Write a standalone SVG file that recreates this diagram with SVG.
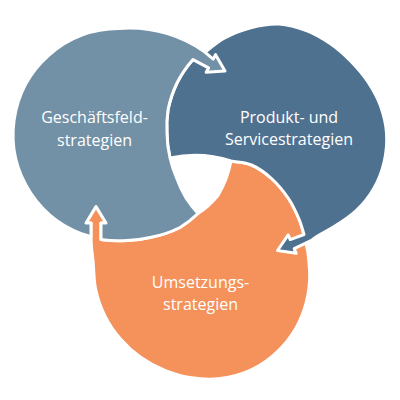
<svg xmlns="http://www.w3.org/2000/svg" width="400" height="400" viewBox="0 0 400 400">
<style>
.blob{stroke:#fff;stroke-width:3;stroke-linejoin:round}
.lbl{font-family:"Open Sans","Noto Sans","DejaVu Sans",sans-serif;font-size:16px;fill:#fff;text-anchor:middle}
</style>
<rect width="400" height="400" fill="#fff"/>
<g id="umsetzung">
<path class="blob" fill="#F5915A" d="M96,206.5 L106,223 L101,223 L101,239.5 A112,112 0 0 0 127,240.5 A112,112 0 0 0 150,237.5 A112,112 0 0 0 180,227.5 A112,112 0 0 0 198,213.5 A112,112 0 0 0 208.5,205.5 A112,112 0 0 0 218,195.5 A112,112 0 0 0 226,179 A112,112 0 0 0 231,161 C237.83,162.33 244.75,162.08 251.5,165 C258.25,167.92 265.33,172.92 271.5,178.5 C277.67,184.08 283.92,191.75 288.5,198.5 C293.08,205.25 296.42,213 299,219 C301.58,225 302.33,229.33 304,234.5 L307.85,252.16 C308.78,259.83 310.17,271.09 309.59,280.5 C309.01,289.91 307.33,299.6 304.37,308.62 C301.41,317.64 297.18,326.7 291.85,334.61 C286.53,342.52 279.77,349.98 272.42,356.1 C265.07,362.22 256.52,367.59 247.78,371.33 C239.04,375.07 229.32,377.46 219.96,378.54 C210.6,379.62 200.84,379.16 191.65,377.79 C182.47,376.42 173.36,373.75 164.85,370.33 C156.34,366.91 148.03,362.52 140.6,357.26 C133.17,352 126.21,345.66 120.26,338.75 C114.32,331.84 109.02,324 104.93,315.8 C100.84,307.6 97.69,298.6 95.72,289.56 C93.75,280.52 93.81,268.65 93.11,261.56 C92.41,254.47 91.85,251.43 91.5,247 C91.15,242.57 91.08,239 91,235 L91,223 L86,223 Z"/>
<text class="lbl" x="200.5" y="288">Umsetzungs-</text>
<text class="lbl" x="200.5" y="310">strategien</text>
</g>
<g id="produkt">
<path class="blob" fill="#4F7190" d="M205,52.3 C211.42,47.59 216.62,42.27 224.25,38.17 C231.88,34.07 241.67,30.08 250.79,27.72 C259.92,25.36 269.73,23.52 279,24 C288.27,24.48 297.85,27.31 306.43,30.61 C315.01,33.91 323.11,38.7 330.5,43.8 C337.89,48.9 344.56,54.91 350.77,61.23 C356.98,67.56 362.83,74.32 367.77,81.75 C372.71,89.18 377.3,97.28 380.42,105.82 C383.54,114.36 385.86,123.77 386.5,133 C387.14,142.23 386.35,152.06 384.28,161.21 C382.21,170.36 378.73,179.7 374.09,187.9 C369.45,196.1 363.22,203.89 356.43,210.43 C349.64,216.97 340.92,222.46 333.35,227.14 C325.78,231.82 317.48,235.11 311.5,240.3 L294.17,248.7 L296.16,253.29 L277.5,250.5 L288.18,234.95 L290.18,239.54 L304,234.5 C302.33,229.33 301.58,225 299,219 C296.42,213 293.08,205.25 288.5,198.5 C283.92,191.75 277.67,184.08 271.5,178.5 C265.33,172.92 258.25,167.92 251.5,165 C244.75,162.08 237.83,162.33 231,161 A114,114 0 0 0 170,158 A113,113 0 0 1 167,133 A113,113 0 0 1 168,110 A113,113 0 0 1 177,83 A113,113 0 0 1 193,59.6 L205,52.3 Z"/>
<text class="lbl" x="289" y="123">Produkt- und</text>
<text class="lbl" x="289" y="145">Servicestrategien</text>
</g>
<g id="geschaeftsfeld">
<path class="blob" fill="#7290A6" d="M91,236.7 A106,106 0 0 1 119,28.5 A133.6,133.6 0 0 1 203,50.7 L213.22,59.09 L215.56,54.67 L225,71 L206.18,72.33 L208.53,67.92 L193,59.6 A113,113 0 0 0 177,83 A113,113 0 0 0 168,110 A113,113 0 0 0 167,133 A113,113 0 0 0 170,158 A113,113 0 0 0 177,179 A113,113 0 0 0 186,198 A113,113 0 0 0 198,213.5 A112,112 0 0 1 180,227.5 A112,112 0 0 1 150,237.5 A112,112 0 0 1 127,240.5 A112,112 0 0 1 101,239.5 L101,223 L106,223 L96,206.5 L86,223 L91,223 Z"/>
<text class="lbl" x="94.5" y="123">Geschäftsfeld-</text>
<text class="lbl" x="94.5" y="145.5">strategien</text>
</g>
</svg>
